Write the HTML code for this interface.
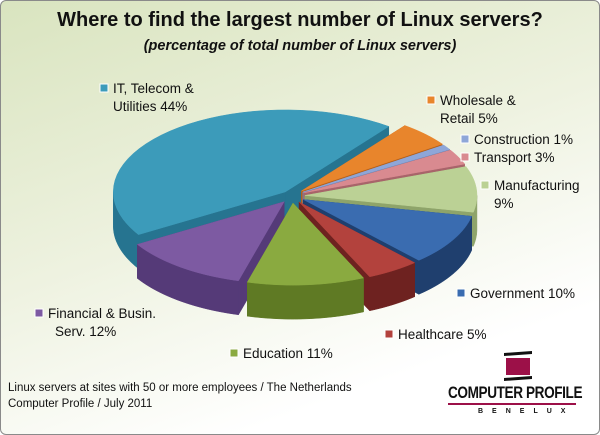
<!DOCTYPE html>
<html><head><meta charset="utf-8"><style>
body{margin:0;width:600px;height:435px;overflow:hidden;font-family:"Liberation Sans",sans-serif}
#frame{position:absolute;left:0;top:0;width:598px;height:433px;border:1px solid #8a8a8a;border-radius:6px;background:linear-gradient(160deg,#d9e4bf 0%,#eef2e0 45%,#ffffff 80%)}
.t{position:absolute;color:#111;white-space:nowrap}
</style></head><body>
<div id="frame"></div>
<div class="t" style="left:0;width:600px;text-align:center;top:9px;font-size:20px;font-weight:bold">Where to find the largest number of Linux servers?</div>
<div class="t" style="left:0;width:600px;text-align:center;top:38px;font-size:14.5px;font-weight:bold;font-style:italic">(percentage of total number of Linux servers)</div>
<svg id="pie" width="600" height="435" style="position:absolute;left:0;top:0"></svg>
<div class="t" style="left:8px;top:380px;font-size:11.5px;line-height:16px">Linux servers at sites with 50 or more employees / The Netherlands<br>Computer Profile / July 2011</div>
<div style="position:absolute;left:440px;top:352px;width:150px;height:70px">
<div style="position:absolute;left:64px;top:0;width:28px;height:3px;background:#111;transform:skewY(-4deg)"></div>
<div style="position:absolute;left:66px;top:6px;width:24px;height:17px;background:#9c1048"></div>
<div style="position:absolute;left:64px;top:25px;width:28px;height:3px;background:#111;transform:skewY(-4deg)"></div>
<div class="t" style="left:8px;top:31px;font-size:17px;font-weight:bold;letter-spacing:-0.5px;transform:scaleX(0.8);transform-origin:left">COMPUTER PROFILE</div>
<div style="position:absolute;left:8px;top:51px;width:128px;height:2px;background:#9c1048"></div>
<div class="t" style="left:38px;top:56px;font-size:7px;font-weight:bold;letter-spacing:9px">BENELUX</div>
</div>
<script>
const categories=["Wholesale & Retail","Construction","Transport","Manufacturing","Government","Healthcare","Education","Financial & Busin. Serv.","IT, Telecom & Utilities"];
const values=[5,1,3,9,10,5,11,12,44];
const colors=["#e8852c","#8ea6d8","#d98a90","#bbd195","#3a6cb0","#b3423d","#8aaa40","#7d5aa2","#3c9bba"];
const walls=["#b5601a","#6a80b0","#a8646a","#8ea46a","#1f3f6e","#6e2220","#5f7a24","#553a78","#267490"];
const labels=[["Wholesale &","Retail 5%"],["Construction 1%"],["Transport 3%"],["Manufacturing","9%"],["Government 10%"],["Healthcare 5%"],["Education 11%"],["Financial & Busin.","Serv. 12%"],["IT, Telecom &","Utilities 44%"]];
const labelPos=[[427,92],[461,131],[461,149],[481,177],[457,285],[385,326],[230,345],[35,305],[100,80]];
const cx=292,cy=196,rx=172,ry=82,depth=34,start=37,explode=[13,13,13,13,13,13,13,13,10];
const svg=document.getElementById('pie');const NS='http://www.w3.org/2000/svg';
const total=values.reduce((a,b)=>a+b,0);
function pt(a,ox,oy,d){const r=a*Math.PI/180;return [cx+ox+rx*Math.sin(r),cy+oy-ry*Math.cos(r)+d];}
let a=start;const sl=[];
values.forEach((v,i)=>{const a0=a,a1=a+v/total*360;a=a1;const m=(a0+a1)/2*Math.PI/180;
sl.push({i,a0,a1,ox:explode[i]*Math.sin(m),oy:-explode[i]*0.55*Math.cos(m),my:-Math.cos(m)});});
function poly(pts,fill,name){const p=document.createElementNS(NS,'polygon');p.setAttribute('points',pts.map(q=>q.join(',')).join(' '));p.setAttribute('fill',fill);p.setAttribute('stroke',fill);p.setAttribute('stroke-width','0.5');


svg.appendChild(p);}
sl.slice().sort((p,q)=>p.my-q.my).forEach(s=>{const i=s.i;const c=[cx+s.ox,cy+s.oy];
[s.a0,s.a1].forEach(e=>{const t=pt(e,s.ox,s.oy,0),b=pt(e,s.ox,s.oy,depth);poly([c,t,b,[c[0],c[1]+depth]],walls[i],'slice-side-'+i);});
const lo=Math.max(s.a0,90),hi=Math.min(s.a1,270);
const segs=[[lo,hi]];if(s.a1>450)segs.push([450,Math.min(s.a1,630)]);
segs.forEach(([l,h])=>{if(h>l){const top=[],bot=[];for(let t=l;t<=h+0.01;t+=(h-l)/30){top.push(pt(t,s.ox,s.oy,0));bot.push(pt(t,s.ox,s.oy,depth));}poly(top.concat(bot.reverse()),walls[i],'slice-wall-'+i);}});
const pts=[c];for(let t=s.a0;t<=s.a1+0.01;t+=(s.a1-s.a0)/40)pts.push(pt(t,s.ox,s.oy,0));
poly(pts,colors[i],'slice-'+categories[i].toLowerCase().replace(/[^a-z]+/g,'-'));});
labels.forEach((L,i)=>{const [x,y]=labelPos[i];
const m=document.createElementNS(NS,'rect');m.setAttribute('x',x);m.setAttribute('y',y+4);m.setAttribute('width',8);m.setAttribute('height',8);m.setAttribute('fill',colors[i]);m.setAttribute('stroke','#fff');m.setAttribute('stroke-width','1');


svg.appendChild(m);
L.forEach((s,j)=>{const t=document.createElementNS(NS,'text');t.setAttribute('x',j==0?x+13:x+(L[0].length>13?20:13));t.setAttribute('y',y+13+j*18);t.setAttribute('font-size','13.5');t.setAttribute('font-family','Liberation Sans, sans-serif');t.setAttribute('fill','#111');t.textContent=s;


svg.appendChild(t);});});
</script>
</body></html>
